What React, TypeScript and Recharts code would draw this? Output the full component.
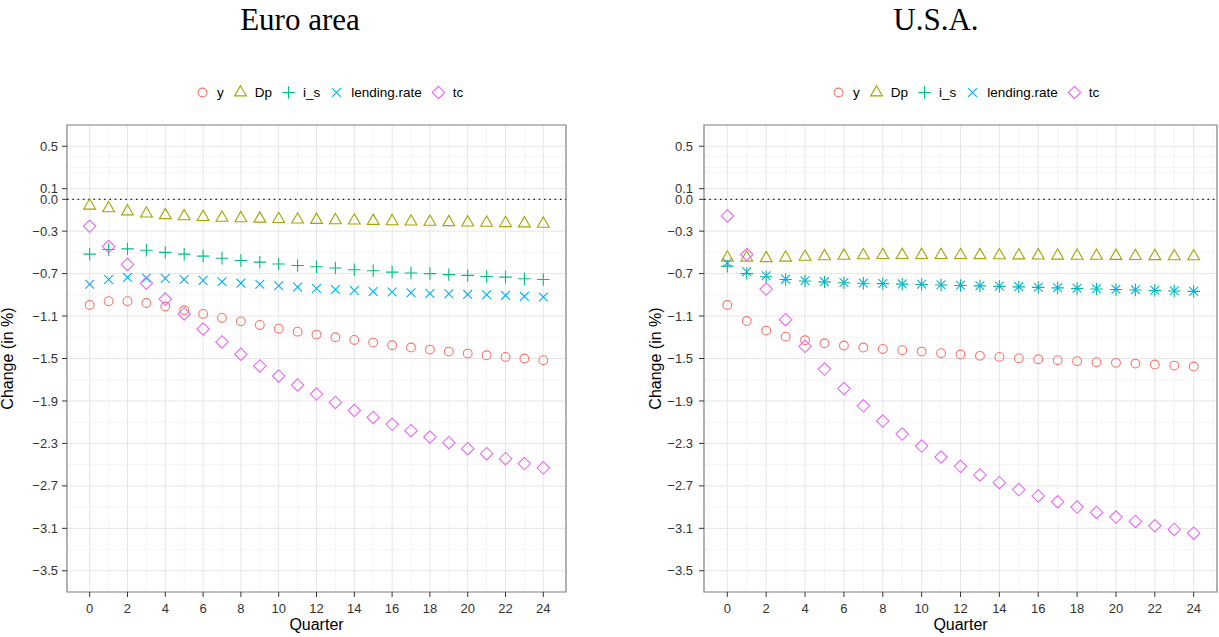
import React from "react";
import {
  ScatterChart,
  Scatter,
  XAxis,
  YAxis,
  CartesianGrid,
  ReferenceLine,
  ReferenceArea,
  Label,
} from "recharts";

// ---------- data ----------
const quarters = [0, 1, 2, 3, 4, 5, 6, 7, 8, 9, 10, 11, 12, 13, 14, 15, 16, 17, 18, 19, 20, 21, 22, 23, 24];

const seriesNames = ["y", "Dp", "i_s", "lending.rate", "tc"];
const seriesColors = ["#F8766D", "#A3A500", "#00BF7D", "#00B0F6", "#E76BF3"];
const seriesShapes = ["circle", "triangle", "plus", "cross", "diamond"];

const euY = [-0.996, -0.96, -0.96, -0.977, -1.01, -1.046, -1.08, -1.118, -1.15, -1.184, -1.219, -1.247, -1.275, -1.3, -1.325, -1.35, -1.375, -1.397, -1.416, -1.435, -1.454, -1.47, -1.485, -1.5, -1.516];
const euDp = [-0.06, -0.085, -0.115, -0.135, -0.15, -0.16, -0.168, -0.174, -0.179, -0.183, -0.187, -0.191, -0.195, -0.198, -0.201, -0.204, -0.207, -0.21, -0.213, -0.216, -0.219, -0.222, -0.225, -0.228, -0.231];
const euIs = [-0.517, -0.473, -0.467, -0.48, -0.5, -0.517, -0.535, -0.555, -0.577, -0.592, -0.61, -0.624, -0.636, -0.648, -0.664, -0.673, -0.686, -0.695, -0.7, -0.71, -0.717, -0.727, -0.733, -0.749, -0.755];
const euLend = [-0.8, -0.755, -0.736, -0.742, -0.745, -0.755, -0.764, -0.777, -0.79, -0.8, -0.815, -0.827, -0.84, -0.85, -0.86, -0.868, -0.874, -0.88, -0.887, -0.89, -0.896, -0.9, -0.905, -0.915, -0.92];
const euTc = [-0.254, -0.445, -0.614, -0.79, -0.94, -1.08, -1.222, -1.344, -1.46, -1.57, -1.665, -1.75, -1.835, -1.914, -1.99, -2.055, -2.12, -2.18, -2.24, -2.293, -2.35, -2.397, -2.444, -2.49, -2.53];

const usY = [-0.996, -1.147, -1.237, -1.294, -1.328, -1.357, -1.378, -1.397, -1.41, -1.422, -1.435, -1.45, -1.463, -1.475, -1.485, -1.497, -1.507, -1.516, -1.525, -1.535, -1.541, -1.548, -1.557, -1.567, -1.576];
const usDp = [-0.55, -0.55, -0.555, -0.55, -0.542, -0.537, -0.532, -0.528, -0.526, -0.525, -0.525, -0.525, -0.526, -0.527, -0.528, -0.529, -0.53, -0.531, -0.532, -0.533, -0.534, -0.535, -0.536, -0.537, -0.538];
const usIs = [-0.63, -0.7, -0.73, -0.755, -0.77, -0.778, -0.786, -0.791, -0.795, -0.799, -0.803, -0.807, -0.812, -0.816, -0.82, -0.825, -0.83, -0.835, -0.84, -0.845, -0.85, -0.855, -0.859, -0.864, -0.868];
const usLend = [-0.598, -0.683, -0.72, -0.752, -0.768, -0.776, -0.784, -0.789, -0.793, -0.797, -0.801, -0.805, -0.81, -0.814, -0.818, -0.823, -0.828, -0.833, -0.838, -0.843, -0.848, -0.853, -0.857, -0.862, -0.866];
const usTc = [-0.157, -0.52, -0.846, -1.134, -1.385, -1.6, -1.783, -1.946, -2.09, -2.212, -2.325, -2.428, -2.516, -2.597, -2.67, -2.735, -2.795, -2.85, -2.9, -2.95, -2.994, -3.035, -3.076, -3.11, -3.146];

const xTicks = [0, 2, 4, 6, 8, 10, 12, 14, 16, 18, 20, 22, 24];
const xMinor = [-1, 1, 3, 5, 7, 9, 11, 13, 15, 17, 19, 21, 23, 25];
const yTicks = [0.5, 0.1, 0.0, -0.3, -0.7, -1.1, -1.5, -1.9, -2.3, -2.7, -3.1, -3.5];
const yMinor = [0.4, 0.3, 0.25, -0.5, -0.9, -1.3, -1.7, -2.1, -2.5, -2.9, -3.3];
const xDomain = [-1.2, 25.2];
const yDomain = [-3.7, 0.7];

const FONT = '"Liberation Sans", Arial, Helvetica, sans-serif';
const R = 4.4;

function Marker({ kind, color, cx, cy }: { kind: string; color: string; cx: number; cy: number }) {
  const sw = 1.1;
  if (kind === "circle") {
    return <circle cx={cx} cy={cy} r={R} fill="none" stroke={color} strokeWidth={sw} />;
  }
  if (kind === "triangle") {
    const r = 1.5551 * R;
    const xc = 1.3468 * R;
    const yc = 0.7776 * R;
    return (
      <polygon
        points={`${cx},${cy - r} ${cx + xc},${cy + yc} ${cx - xc},${cy + yc}`}
        fill="none"
        stroke={color}
        strokeWidth={sw}
      />
    );
  }
  if (kind === "plus") {
    const d = 1.4142 * R;
    return <path d={`M${cx - d},${cy}H${cx + d}M${cx},${cy - d}V${cy + d}`} stroke={color} strokeWidth={sw} fill="none" />;
  }
  if (kind === "cross") {
    const d = R;
    return (
      <path
        d={`M${cx - d},${cy - d}L${cx + d},${cy + d}M${cx - d},${cy + d}L${cx + d},${cy - d}`}
        stroke={color}
        strokeWidth={sw}
        fill="none"
      />
    );
  }
  const d = 1.4142 * R;
  return (
    <polygon
      points={`${cx},${cy - d} ${cx + d},${cy} ${cx},${cy + d} ${cx - d},${cy}`}
      fill="none"
      stroke={color}
      strokeWidth={sw}
    />
  );
}

const fmtY = (v: number) => (v < 0 ? "\u2212" : "") + Math.abs(v).toFixed(1);

type PanelProps = {
  values: number[][];
  left: number;
  width: number;
  yAxisWidth: number;
  marginRight: number;
  labelX: number;
  yTickMargin: number;
};

function Panel({ values, left, width, yAxisWidth, marginRight, labelX, yTickMargin }: PanelProps) {
  const datasets = values.map((vals) => quarters.map((q, i) => ({ q, v: vals[i] })));
  return (
    <div style={{ position: "absolute", left, top: 0 }}>
      <ScatterChart width={width} height={637} margin={{ top: 125, right: marginRight, bottom: 0, left: 0 }}>
        <CartesianGrid stroke="#f2f2f2" strokeWidth={0.8} horizontalValues={yMinor} verticalValues={xMinor} />
        <CartesianGrid stroke="#e6e6e6" strokeWidth={1} horizontalValues={yTicks} verticalValues={xTicks} />
        <XAxis
          type="number"
          dataKey="q"
          domain={xDomain}
          ticks={xTicks}
          allowDataOverflow
          height={45}
          axisLine={false}
          tickLine={{ stroke: "#333" }}
          tickSize={5}
          tickMargin={7}
          tick={{ fill: "#333", fontSize: 13 }}
          interval={0}
          label={
            <Label
              content={(p: any) => {
                const vb = p.viewBox || {};
                return (
                  <text x={vb.x + vb.width / 2} y={630} textAnchor="middle" fontSize={16} fill="#000">
                    Quarter
                  </text>
                );
              }}
            />
          }
        />
        <YAxis
          type="number"
          dataKey="v"
          domain={yDomain}
          ticks={yTicks}
          allowDataOverflow
          width={yAxisWidth}
          axisLine={false}
          tickLine={{ stroke: "#333" }}
          tickSize={5}
          tickMargin={yTickMargin}
          tick={{ fill: "#333", fontSize: 13 }}
          interval={0}
          tickFormatter={fmtY}
          label={
            <Label
              content={(p: any) => {
                const vb = p.viewBox || {};
                const cy = vb.y + vb.height / 2;
                return (
                  <text
                    x={labelX}
                    y={cy}
                    transform={`rotate(-90 ${labelX} ${cy})`}
                    textAnchor="middle"
                    fontSize={16}
                    fill="#000"
                  >
                    Change (in %)
                  </text>
                );
              }}
            />
          }
        />
        <ReferenceLine y={0} stroke="#222" strokeWidth={1.3} strokeDasharray="1.6 3.7" />
        {datasets.map((d, k) => (
          <Scatter
            key={seriesNames[k]}
            name={seriesNames[k]}
            data={d}
            isAnimationActive={false}
            shape={(p: any) => <Marker kind={seriesShapes[k]} color={seriesColors[k]} cx={p.cx} cy={p.cy} />}
          />
        ))}
        <ReferenceArea
          x1={xDomain[0]}
          x2={xDomain[1]}
          y1={yDomain[0]}
          y2={yDomain[1]}
          fill="none"
          fillOpacity={0}
          stroke="#7f7f7f"
          strokeWidth={1.2}
          ifOverflow="visible"
        />
      </ScatterChart>
    </div>
  );
}

function Legend({ left }: { left: number }) {
  return (
    <div
      style={{
        position: "absolute",
        left,
        top: 84,
        display: "flex",
        alignItems: "center",
        fontFamily: FONT,
        fontSize: 13.5,
        color: "#000",
        whiteSpace: "nowrap",
      }}
    >
      {seriesNames.map((n, k) => (
        <div key={n} style={{ display: "flex", alignItems: "center", marginRight: 8 }}>
          <svg width={17} height={17} style={{ display: "block" }}>
            <Marker kind={seriesShapes[k]} color={seriesColors[k]} cx={8.5} cy={8.5} />
          </svg>
          <span style={{ marginLeft: 6 }}>{n}</span>
        </div>
      ))}
    </div>
  );
}

export default function App() {
  return (
    <div
      style={{
        position: "absolute",
        left: 0,
        top: 0,
        width: 1219,
        height: 637,
        background: "#fff",
        fontFamily: FONT,
        overflow: "hidden",
      }}
    >
      <svg width={1219} height={60} style={{ position: "absolute", left: 0, top: 0 }}>
        <text x={300} y={29.5} textAnchor="middle" fontFamily='"Liberation Serif", "DejaVu Serif", serif' fontSize={31} fill="#000">
          Euro area
        </text>
        <text x={936} y={29.5} textAnchor="middle" fontFamily='"Liberation Serif", "DejaVu Serif", serif' fontSize={31} fill="#000">
          U.S.A.
        </text>
      </svg>
      <Legend left={194} />
      <Legend left={830} />
      <Panel
        values={[euY, euDp, euIs, euLend, euTc]}
        left={0}
        width={600}
        yAxisWidth={67}
        marginRight={34}
        labelX={13}
        yTickMargin={4}
      />
      <Panel
        values={[usY, usDp, usIs, usLend, usTc]}
        left={640}
        width={579}
        yAxisWidth={64}
        marginRight={2}
        labelX={21}
        yTickMargin={6}
      />
    </div>
  );
}
